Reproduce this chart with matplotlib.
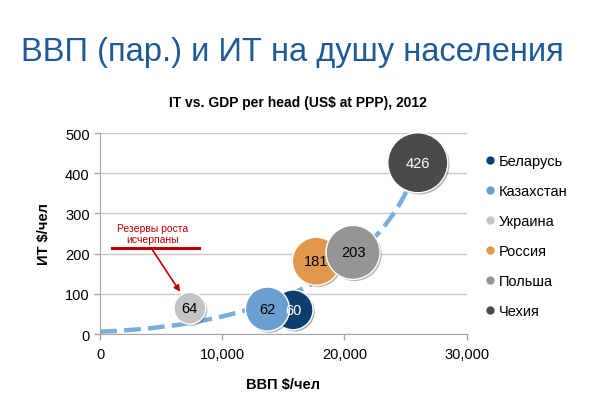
import numpy as np
import matplotlib
matplotlib.use("Agg")
import matplotlib.pyplot as plt
import matplotlib.patheffects as pe
from matplotlib.path import Path
from matplotlib.patches import PathPatch

countries = ["Беларусь", "Казахстан", "Украина", "Россия", "Польша", "Чехия"]
gdp = [15800, 13700, 7350, 17700, 20700, 26000]
it = [60, 62, 64, 181, 203, 426]
bubble = [44, 54, 28, 64, 81, 100]
colors = ["#0d3f6e", "#6a9fcf", "#c4c4c4", "#e0994c", "#959595", "#4a4a4a"]
label_colors = ["white", "black", "black", "black", "black", "white"]
xticks = [0, 10000, 20000, 30000]
yticks = [0, 100, 200, 300, 400, 500]
# hand-drawn trend curve (cubic Bezier control points)
trend_x = [0, 14000, 25000, 26500]
trend_y = [6, 20, 170, 500]

plt.rcParams['font.family'] = ['Liberation Sans', 'DejaVu Sans']

fig = plt.figure(figsize=(6, 4.14), dpi=100)
ax = fig.add_axes([0.1667, 0.1908, 0.6111, 0.4855])

trend_path = Path(list(zip(trend_x, trend_y)),
                  [Path.MOVETO, Path.CURVE4, Path.CURVE4, Path.CURVE4])
ax.add_patch(PathPatch(trend_path, facecolor="none", edgecolor="#7aaed8",
                       lw=3.2, ls=(0, (3.8, 1.6)), zorder=2, capstyle='butt'))

czech_diam_pt = 43.2
for i, c in enumerate(countries):
    s = (bubble[i] / 100) * czech_diam_pt ** 2
    sc = ax.scatter(gdp[i], it[i], s=s, color=colors[i], edgecolor="white",
                    linewidth=1.0, zorder=3 + i, label=c)
    sc.set_path_effects([pe.SimplePatchShadow(offset=(1.2, -1.2), alpha=0.35),
                         pe.Normal()])
for i in range(len(countries)):
    ax.text(gdp[i], it[i], str(it[i]), color=label_colors[i], fontsize=10.5,
            ha="center", va="center", zorder=20)

ax.set_xlim(0, 30000)
ax.set_ylim(0, 500)
ax.set_xticks(xticks)
ax.set_xticklabels([f"{v:,}" for v in xticks])
ax.set_yticks(yticks)
ax.set_yticklabels([str(v) for v in yticks])
ax.tick_params(axis='both', labelsize=10.5, color="#a6a6a6", length=4, width=1)
ax.tick_params(axis='x', pad=5)
ax.grid(axis='y', color="#c8c8c8", lw=1)
ax.set_axisbelow(True)
for sp in ["top", "right"]:
    ax.spines[sp].set_visible(False)
for sp in ["left", "bottom"]:
    ax.spines[sp].set_color("#a6a6a6")

ax.set_xlabel("ВВП $/чел", fontsize=10.5, fontweight="bold", labelpad=12)
ax.set_ylabel("ИТ $/чел", fontsize=10.5, fontweight="bold", labelpad=10)

# annotation
ax.plot([950, 8100], [214, 214], color="#c00000", lw=2.2, zorder=2)
ax.text(4330, 250, "Резервы роста\nисчерпаны", color="#c00000", fontsize=7.5,
        ha="center", va="center", linespacing=1.1)
ax.annotate("", xy=(6550, 105), xytext=(4230, 212),
            arrowprops=dict(arrowstyle="-|>", color="#c00000", lw=1.2,
                            mutation_scale=9, shrinkA=0, shrinkB=0))

handles = [plt.Line2D([], [], marker='o', ls='', color=colors[i], markersize=5)
           for i in range(len(countries))]
fig.legend(handles, countries, loc="upper left", bbox_to_anchor=(0.795, 0.64),
           frameon=False, fontsize=10.5, handletextpad=0.1, handlelength=1.0,
           labelspacing=1.1, borderaxespad=0)

fig.text(0.035, 0.872, "ВВП (пар.) и ИТ на душу населения", fontsize=23.5,
         color="#1f5a96", ha="left", va="center")
fig.text(0.497, 0.751, "IT vs. GDP per head (US$ at PPP), 2012", fontsize=10,
         fontweight="bold", ha="center", va="center")

fig.savefig("out.png", dpi=100)
